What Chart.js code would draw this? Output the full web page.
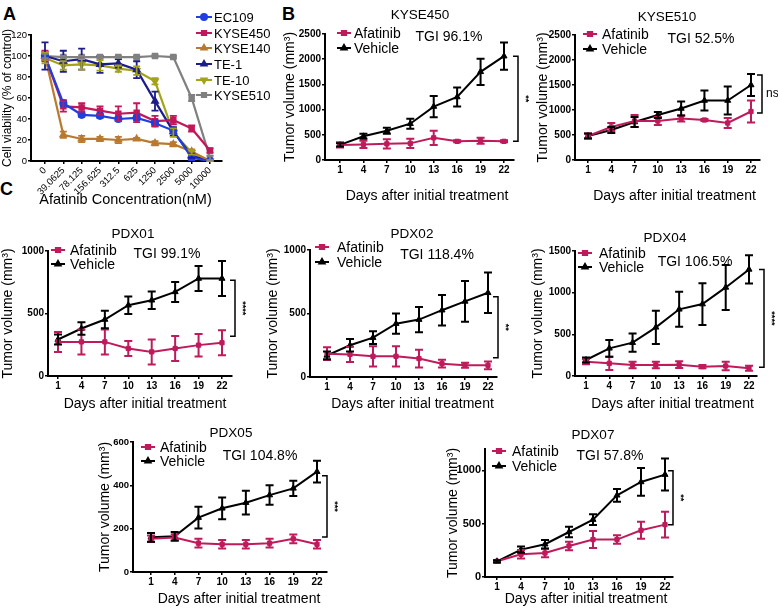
<!DOCTYPE html>
<html>
<head>
<meta charset="utf-8">
<script src="https://cdn.jsdelivr.net/npm/chart.js@4.4.0/dist/chart.umd.min.js"></script>
<style>
  body { margin: 0; background: #fff; width: 778px; height: 608px; position: relative; overflow: hidden; }
  canvas { position: absolute; }
  .letter { position: absolute; font: bold 18px Arial, "Liberation Sans", sans-serif; line-height: 1.15; color: #000; }
</style>
</head>
<body>
<div class="letter" style="left:3px;top:4px">A</div>
<div class="letter" style="left:282px;top:4px">B</div>
<div class="letter" style="left:0px;top:179px">C</div>
<script>
// ---- panel A: cell viability ----
const concLabels = ['0', '39.0625', '78.125', '156.625', '312.5', '625', '1250', '2500', '5000', '10000'];
const viabilityTicks = [0, 20, 40, 60, 80, 100, 120];
const cellLines = ['EC109', 'KYSE450', 'KYSE140', 'TE-1', 'TE-10', 'KYSE510'];
const ec109 = [100, 55, 44, 43, 40, 41, 36, 29, 3, 0];
const ec109Err = [4, 3, 2, 2, 2, 2, 3, 3, 2, 1];
const kyse450Cell = [100, 52, 51, 48, 45, 46, 38, 39, 31, 10];
const kyse450CellErr = [5, 5, 4, 4, 7, 9, 5, 4, 3, 2];
const kyse140Cell = [100, 25, 21, 21, 20, 21, 17, 16, 9, 0];
const kyse140CellErr = [4, 3, 3, 2, 3, 1, 2, 2, 2, 1];
const te1 = [100, 95, 97, 92, 93, 87, 57, 28, 5, 0];
const te1Err = [13, 10, 10, 8, 4, 8, 9, 4, 2, 1];
const te10 = [98, 91, 92, 91, 88, 86, 76, 27, 8, 0];
const te10Err = [5, 4, 5, 5, 3, 4, 3, 4, 2, 1];
const kyse510Cell = [100, 99, 99, 99, 99, 99, 100, 99, 60, 3];
const kyse510CellErr = [2, 1, 1, 1, 1, 1, 1, 1, 3, 2];

// ---- panels B, C: tumor volume ----
const days = [1, 4, 7, 10, 13, 16, 19, 22];
const groups = ['Afatinib', 'Vehicle'];

const kyseTicks = [0, 500, 1000, 1500, 2000, 2500];
const kyse450Afa = [300, 310, 320, 330, 440, 370, 380, 370];
const kyse450AfaErr = [50, 70, 90, 90, 140, 20, 60, 20];
const kyse450Veh = [300, 470, 580, 720, 1060, 1250, 1750, 2060];
const kyse450VehErr = [30, 50, 60, 100, 210, 190, 260, 270];

const kyse510Afa = [480, 660, 780, 780, 830, 800, 740, 970];
const kyse510AfaErr = [50, 80, 120, 80, 60, 20, 100, 220];
const kyse510Veh = [480, 600, 760, 900, 1030, 1190, 1190, 1500];
const kyse510VehErr = [50, 60, 100, 60, 140, 200, 280, 220];

const pdx01Ticks = [0, 500, 1000];
const pdx01Afa = [273, 273, 273, 220, 193, 220, 247, 266];
const pdx01AfaErr = [80, 100, 100, 60, 100, 100, 90, 100];
const pdx01Veh = [292, 380, 452, 566, 606, 673, 780, 780];
const pdx01VehErr = [40, 50, 70, 70, 70, 80, 100, 140];

const pdx02Ticks = [0, 500, 1000];
const pdx02Afa = [184, 178, 163, 163, 145, 105, 92, 92];
const pdx02AfaErr = [50, 60, 80, 80, 70, 30, 20, 30];
const pdx02Veh = [170, 250, 310, 420, 452, 526, 595, 663];
const pdx02VehErr = [30, 50, 50, 80, 100, 120, 160, 160];

const pdx04Ticks = [0, 500, 1000, 1500];
const pdx04Afa = [172, 152, 132, 132, 136, 112, 120, 92];
const pdx04AfaErr = [30, 80, 40, 40, 40, 20, 50, 30];
const pdx04Veh = [192, 332, 400, 584, 800, 863, 1063, 1279];
const pdx04VehErr = [30, 100, 110, 200, 210, 250, 270, 170];

const pdx05Ticks = [0, 200, 400, 600];
const pdx05Afa = [153, 159, 133, 128, 128, 133, 153, 128];
const pdx05AfaErr = [15, 15, 20, 20, 20, 20, 20, 20];
const pdx05Veh = [160, 165, 251, 294, 320, 355, 386, 463];
const pdx05VehErr = [20, 20, 50, 50, 55, 45, 35, 50];

const pdx07Ticks = [0, 500, 1000];
const pdx07Afa = [147, 213, 225, 291, 351, 351, 438, 491];
const pdx07AfaErr = [10, 40, 40, 40, 80, 40, 80, 120];
const pdx07Veh = [147, 257, 307, 422, 538, 766, 891, 960];
const pdx07VehErr = [10, 30, 40, 50, 50, 60, 130, 150];

const FONT = 'Arial, "Liberation Sans", sans-serif';
const AFA = '#bf1a5c';
const VEH = '#000000';
const cellColors = ['#1f3fe0', '#c0185a', '#b87a30', '#1c1c8a', '#a3a21a', '#808080'];
const cellStyles = ['circle', 'rect', 'triangle', 'triangle', 'triangle', 'rect'];

Chart.defaults.font.family = FONT;
Chart.defaults.color = '#000';

// draws mean +/- error whiskers for datasets that carry an errs array
const errorBars = {
  id: 'errorBars',
  afterDatasetsDraw(chart) {
    const ctx = chart.ctx;
    const ys = chart.scales.y;
    chart.data.datasets.forEach((ds, i) => {
      if (!ds.errs) return;
      const meta = chart.getDatasetMeta(i);
      ctx.save();
      ctx.strokeStyle = ds.borderColor;
      ctx.lineWidth = ds.errWidth || 2;
      const cap = ds.cap || 4;
      meta.data.forEach((pt, j) => {
        const v = ds.data[j].y, e = ds.errs[j];
        const top = ys.getPixelForValue(v + e);
        const bot = ys.getPixelForValue(Math.max(v - e, ys.min));
        ctx.beginPath();
        ctx.moveTo(pt.x, top); ctx.lineTo(pt.x, bot);
        ctx.moveTo(pt.x - cap, top); ctx.lineTo(pt.x + cap, top);
        ctx.moveTo(pt.x - cap, bot); ctx.lineTo(pt.x + cap, bot);
        ctx.stroke();
      });
      ctx.restore();
    });
  }
};
Chart.register(errorBars);

// titles, legend, x-axis title, significance bracket
function deco(p) {
  return {
    id: 'deco',
    afterDraw(chart) {
      const ctx = chart.ctx, ox = p.left, oy = p.top;
      const xs = chart.scales.x, ys = chart.scales.y;
      ctx.save();
      ctx.fillStyle = '#000';
      ctx.textAlign = 'center';
      ctx.textBaseline = 'middle';
      (p.texts || []).forEach(t => {
        ctx.font = t.font;
        ctx.fillText(t.text, t.x - ox, t.y - oy);
      });
      // x-axis title
      ctx.font = p.xTitleFont;
      const xc = (xs.getPixelForValue(p.firstX) + xs.getPixelForValue(p.lastX)) / 2 + p.xTitleDx;
      ctx.fillText(p.xTitle, xc, p.xTitleY - oy);
      // legend
      const lg = p.legend;
      ctx.textAlign = 'left';
      ctx.font = lg.font;
      lg.items.forEach((it, k) => {
        const y = lg.y[k] - oy, x = lg.x - ox;
        ctx.strokeStyle = it.color;
        ctx.fillStyle = it.color;
        ctx.lineWidth = 2;
        ctx.beginPath(); ctx.moveTo(x, y); ctx.lineTo(x + lg.len, y); ctx.stroke();
        Chart.helpers.drawPoint(ctx, { pointStyle: it.style, radius: 3, rotation: it.rot || 0, borderWidth: 1 }, x + lg.len / 2, y);
        ctx.fillStyle = '#000';
        ctx.fillText(it.label, lg.textX - ox, y + 1);
      });
      // bracket
      if (p.bracket) {
        const b = p.bracket;
        const xb = xs.getPixelForValue(p.lastX) + b.dx;
        const y1 = ys.getPixelForValue(b.range[0]);
        const y2 = ys.getPixelForValue(b.range[1]);
        ctx.strokeStyle = '#000';
        ctx.lineWidth = 1.5;
        ctx.beginPath();
        ctx.moveTo(xb - 5, y1); ctx.lineTo(xb, y1); ctx.lineTo(xb, y2); ctx.lineTo(xb - 5, y2);
        ctx.stroke();
        ctx.fillStyle = '#000';
        if (b.rotate) {
          ctx.font = 'bold 9px ' + FONT;
          ctx.translate(xb + 7, (y1 + y2) / 2);
          ctx.rotate(Math.PI / 2);
          ctx.textAlign = 'center';
          ctx.fillText(b.label, 0, 0);
        } else {
          ctx.font = '12px ' + FONT;
          ctx.textAlign = 'left';
          ctx.fillText(b.label, xb + 4, (y1 + y2) / 2);
        }
      }
      ctx.restore();
    }
  };
}

function makeChart(p, datasets, yOpts, yTicks, xTicks) {
  const c = document.createElement('canvas');
  c.width = p.w; c.height = p.h;
  c.style.left = p.left + 'px'; c.style.top = p.top + 'px';
  c.style.width = p.w + 'px'; c.style.height = p.h + 'px';
  document.body.appendChild(c);
  const ppx = (p.pxLast - p.pxFirst) / (p.lastX - p.firstX);
  const xMin = p.firstX - (p.pxFirst - p.plot.l) / ppx;
  const xMax = p.lastX + (p.plot.r - p.pxLast) / ppx;
  const yW = p.plot.l - p.left;
  const xH = p.top + p.h - p.plot.b;
  return new Chart(c, {
    type: 'line',
    data: { datasets },
    options: {
      responsive: false,
      animation: false,
      events: [],
      layout: { padding: { left: 0, bottom: 0, top: p.plot.t - p.top, right: p.left + p.w - p.plot.r } },
      elements: { line: { tension: 0, borderWidth: 2 }, point: { radius: 3, borderWidth: 1 } },
      plugins: { legend: { display: false }, tooltip: { enabled: false } },
      scales: {
        x: {
          type: 'linear', min: xMin, max: xMax,
          afterBuildTicks: s => { s.ticks = xTicks.values.map(v => ({ value: v })); },
          afterFit: s => { s.height = xH; },
          grid: { drawOnChartArea: false, tickLength: 3, color: '#000', lineWidth: 1.5 },
          border: { color: '#000', width: 2 },
          ticks: Object.assign({ color: '#000', padding: 1, autoSkip: false, callback: v => String(v) }, xTicks.opts)
        },
        y: Object.assign({
          type: 'linear', min: 0,
          afterBuildTicks: s => { s.ticks = yTicks.map(v => ({ value: v })); },
          afterFit: s => { s.width = yW; },
          grid: { drawOnChartArea: false, tickLength: 3, color: '#000', lineWidth: 1.5 },
          border: { color: '#000', width: 2 }
        }, yOpts)
      }
    },
    plugins: [deco(p)]
  });
}

// ---- panel A ----
const cellValues = [ec109, kyse450Cell, kyse140Cell, te1, te10, kyse510Cell];
const cellErrs = [ec109Err, kyse450CellErr, kyse140CellErr, te1Err, te10Err, kyse510CellErr];
const idx = concLabels.map((_, i) => i);
const panelA = {
  left: 0, top: 0, w: 280, h: 212,
  plot: { l: 31, r: 222, t: 35, b: 161 },
  firstX: 0, lastX: 9, pxFirst: 45, pxLast: 210,
  xTitle: 'Afatinib Concentration(nM)', xTitleFont: '14.5px ' + FONT, xTitleDx: -2, xTitleY: 200,
  legend: {
    x: 196, len: 16, textX: 214, font: '13px ' + FONT,
    y: [17, 33, 48, 64, 80, 95],
    items: cellLines.map((l, i) => ({ label: l, color: cellColors[i], style: cellStyles[i], rot: i === 4 ? 180 : 0 }))
  }
};
makeChart(panelA,
  cellLines.map((l, i) => ({
    label: l,
    data: cellValues[i].map((v, k) => ({ x: idx[k], y: v })),
    errs: cellErrs[i], cap: 3.5, errWidth: 1.8,
    borderColor: cellColors[i], backgroundColor: cellColors[i],
    pointStyle: cellStyles[i], pointRotation: i === 4 ? 180 : 0, borderWidth: 2.2
  })),
  {
    max: 120,
    title: { display: true, text: 'Cell viability (% of control)', font: { size: 12 }, padding: 0 },
    ticks: { color: '#000', font: { size: 9.5 }, padding: 1, callback: v => String(v) }
  },
  viabilityTicks,
  {
    values: idx,
    opts: { minRotation: 45, maxRotation: 45, font: { size: 9.5 }, callback: v => concLabels[v] }
  }
);

// ---- tumor volume panels ----
function tumorPanel(p, afa, afaErr, veh, vehErr, yMax, yTicks, yTickSize) {
  p.firstX = days[0]; p.lastX = days[days.length - 1];
  p.xTitle = 'Days after initial treatment';
  p.xTitleFont = '14px ' + FONT;
  p.xTitleDx = 5;
  p.legend = {
    x: p.lgX, len: 14, textX: p.lgTextX, font: '14px ' + FONT, y: p.lgY,
    items: [
      { label: groups[0], color: AFA, style: 'rect' },
      { label: groups[1], color: VEH, style: 'triangle' }
    ]
  };
  p.texts = [
    { text: p.name, x: p.nameX, y: p.nameY, font: '13.5px ' + FONT },
    { text: p.tgi, x: p.tgiX, y: p.tgiY, font: '14px ' + FONT }
  ];
  makeChart(p, [
    { label: groups[0], data: afa.map((v, k) => ({ x: days[k], y: v })), errs: afaErr,
      borderColor: AFA, backgroundColor: AFA, pointStyle: 'rect' },
    { label: groups[1], data: veh.map((v, k) => ({ x: days[k], y: v })), errs: vehErr,
      borderColor: VEH, backgroundColor: VEH, pointStyle: 'triangle', pointRadius: 3.5 }
  ], {
    max: yMax,
    title: { display: true, text: 'Tumor volume (mm³)', font: { size: 14 }, padding: 0 },
    ticks: { color: '#000', padding: 1, callback: v => String(v),
      font: { size: yTickSize || 10, weight: 'bold' } }
  }, yTicks, {
    values: days,
    opts: { maxRotation: 0, font: { size: 10, weight: 'bold' } }
  });
}

tumorPanel({ left: 282, top: 0, w: 248, h: 206, plot: { l: 325, r: 514, t: 34, b: 160 }, pxFirst: 340, pxLast: 504,
  xTitleY: 196, lgX: 337, lgTextX: 354, lgY: [33, 48],
  name: 'KYSE450', nameX: 420, nameY: 15, tgi: 'TGI 96.1%', tgiX: 449, tgiY: 37,
  bracket: { range: [2060, 370], dx: 14, label: '**', rotate: true } },
  kyse450Afa, kyse450AfaErr, kyse450Veh, kyse450VehErr, 2500, kyseTicks);

tumorPanel({ left: 535, top: 0, w: 243, h: 206, plot: { l: 575, r: 760, t: 35, b: 160 }, pxFirst: 588, pxLast: 751,
  xTitleY: 196, lgX: 583, lgTextX: 602, lgY: [34, 49],
  name: 'KYSE510', nameX: 667, nameY: 17, tgi: 'TGI 52.5%', tgiX: 701, tgiY: 39,
  bracket: { range: [1700, 940], dx: 11, label: 'ns', rotate: false } },
  kyse510Afa, kyse510AfaErr, kyse510Veh, kyse510VehErr, 2500, kyseTicks);

tumorPanel({ left: 0, top: 215, w: 250, h: 200, plot: { l: 48, r: 232, t: 251, b: 376 }, pxFirst: 58, pxLast: 222,
  xTitleY: 404, lgX: 51, lgTextX: 70, lgY: [250, 264],
  name: 'PDX01', nameX: 133, nameY: 234, tgi: 'TGI 99.1%', tgiX: 167, tgiY: 254,
  bracket: { range: [766, 318], dx: 13, label: '****', rotate: true } },
  pdx01Afa, pdx01AfaErr, pdx01Veh, pdx01VehErr, 1000, pdx01Ticks);

tumorPanel({ left: 265, top: 215, w: 250, h: 200, plot: { l: 310, r: 497, t: 250, b: 377 }, pxFirst: 327, pxLast: 488,
  xTitleY: 404, lgX: 315, lgTextX: 337, lgY: [247, 262],
  name: 'PDX02', nameX: 412, nameY: 234, tgi: 'TGI 118.4%', tgiX: 437, tgiY: 255,
  bracket: { range: [632, 152], dx: 10, label: '**', rotate: true } },
  pdx02Afa, pdx02AfaErr, pdx02Veh, pdx02VehErr, 1000, pdx02Ticks);

tumorPanel({ left: 530, top: 215, w: 248, h: 200, plot: { l: 575, r: 757, t: 251, b: 376 }, pxFirst: 586, pxLast: 749,
  xTitleY: 404, lgX: 578, lgTextX: 599, lgY: [253, 267],
  name: 'PDX04', nameX: 665, nameY: 238, tgi: 'TGI 106.5%', tgiX: 695, tgiY: 262,
  bracket: { range: [1279, 104], dx: 15, label: '****', rotate: true } },
  pdx04Afa, pdx04AfaErr, pdx04Veh, pdx04VehErr, 1500, pdx04Ticks);

tumorPanel({ left: 97, top: 410, w: 248, h: 198, plot: { l: 133, r: 327, t: 442, b: 572 }, pxFirst: 151, pxLast: 317,
  xTitleY: 599, lgX: 141, lgTextX: 160, lgY: [447, 461],
  name: 'PDX05', nameX: 231, nameY: 433, tgi: 'TGI 104.8%', tgiX: 260, tgiY: 456,
  bracket: { range: [444, 161], dx: 10, label: '***', rotate: true } },
  pdx05Afa, pdx05AfaErr, pdx05Veh, pdx05VehErr, 600, pdx05Ticks, 9.5);

tumorPanel({ left: 445, top: 410, w: 255, h: 198, plot: { l: 485, r: 673, t: 449, b: 577 }, pxFirst: 497, pxLast: 665,
  xTitleY: 599, lgX: 492, lgTextX: 512, lgY: [451, 466],
  name: 'PDX07', nameX: 593, nameY: 435, tgi: 'TGI 57.8%', tgiX: 610, tgiY: 456,
  bracket: { range: [995, 491], dx: 8, label: '**', rotate: true } },
  pdx07Afa, pdx07AfaErr, pdx07Veh, pdx07VehErr, 1200, pdx07Ticks, 11);
</script>
</body>
</html>
